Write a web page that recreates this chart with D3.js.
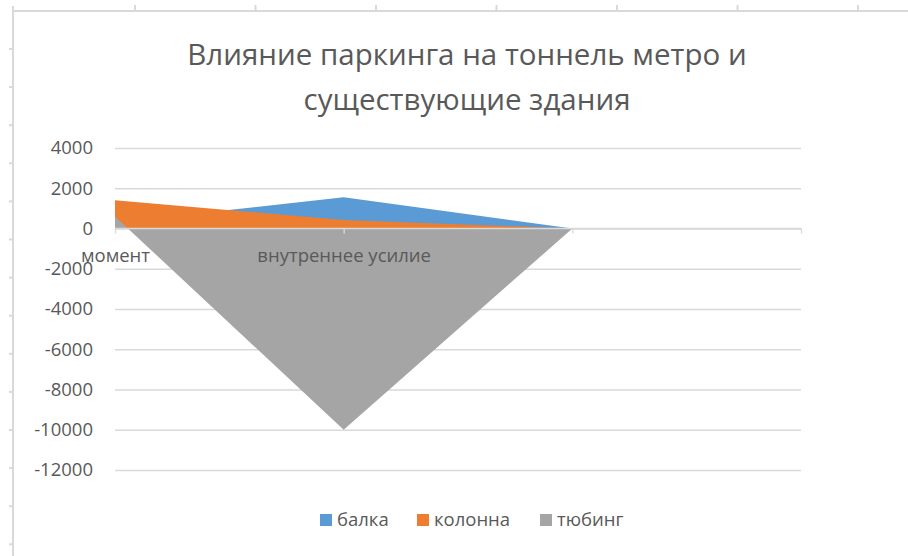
<!DOCTYPE html>
<meta charset="utf-8">
<script src="https://d3js.org/d3.v7.min.js"></script>
<style>
  body { margin: 0; background: #fff; }
  text { font-family: "Open Sans", "Noto Sans", sans-serif; fill: #595959; }
</style>
<div id="chart"></div>
<script>
// chart data
var categories = ["момент", "внутреннее усилие", "", ""];
var balka   = [300, 1550, 0, 0];
var kolonna = [1400, 420, 0, 0];
var tubing  = [600, -10000, 0, 0];
var seriesNames = ["балка", "колонна", "тюбинг"];
var colors = ["#5b9bd5", "#ed7d31", "#a5a5a5"];
var yTicks = [4000, 2000, 0, -2000, -4000, -6000, -8000, -10000, -12000];
var titleLines = ["Влияние паркинга на тоннель метро и", "существующие здания"];

var W = 908, H = 556;
var svg = d3.select("#chart").append("svg")
    .attr("width", W).attr("height", H);

// sheet frame (top ruler + left edge)
var frame = svg.append("g").attr("stroke", "#d9d9d9").attr("stroke-width", 2);
frame.append("line").attr("x1", 12).attr("x2", W).attr("y1", 11).attr("y2", 11);
frame.append("line").attr("x1", 13).attr("x2", 13).attr("y1", 6).attr("y2", H);
d3.range(7).forEach(function(i) {
  var x = 135 + i * 120.5;
  frame.append("line").attr("x1", x).attr("x2", x).attr("y1", 5).attr("y2", 11);
});
d3.range(14).forEach(function(i) {
  var y = 49 + i * 38.1;
  frame.append("line").attr("x1", 9).attr("x2", 13).attr("y1", y).attr("y2", y);
});

// scales
var x = d3.scalePoint()
    .domain(d3.range(categories.length))
    .range([115, 801]);
var y = d3.scaleLinear()
    .domain([-12000, 4000])
    .range([470, 148]);

// gridlines + y labels
var yAxis = svg.append("g")
    .attr("transform", "translate(115,0)")
    .call(d3.axisLeft(y).tickValues(yTicks).tickSize(-686).tickPadding(22)
      .tickFormat(function(d) { return String(d); }));
yAxis.select(".domain").remove();
yAxis.selectAll(".tick line").attr("stroke", "#d9d9d9").attr("stroke-width", 1.3);
yAxis.selectAll(".tick text").style("font-size", "18.5px").attr("fill", "#595959");

// areas
var area = d3.area()
    .x(function(d, i) { return x(i); })
    .y0(y(0))
    .y1(function(d) { return y(d); });

[balka, kolonna, tubing].forEach(function(s, k) {
  svg.append("path")
    .datum(s)
    .attr("d", area)
    .attr("fill", colors[k]);
});

// category axis
var xAxis = svg.append("g")
    .attr("transform", "translate(0," + y(0) + ")")
    .call(d3.axisBottom(x).tickSize(5).tickFormat(function(i) { return categories[i]; }));
xAxis.select(".domain").attr("stroke", "#d9d9d9").attr("stroke-width", 1.3)
    .attr("d", "M115,0H801");
xAxis.selectAll(".tick line").attr("stroke", "#d9d9d9").attr("stroke-width", 1.3);
xAxis.selectAll(".tick text").style("font-size", "18.5px").attr("fill", "#595959")
    .attr("y", 28).attr("dy", "0.32em");

// title
svg.append("g").selectAll("text")
  .data(titleLines)
  .enter().append("text")
    .attr("x", 467)
    .attr("y", function(d, i) { return 55 + i * 45; })
    .attr("dy", "0.35em")
    .attr("text-anchor", "middle")
    .style("font-size", "29.5px")
    .text(function(d) { return d; });

// legend
var legendX = [320, 417, 540];
var legend = svg.append("g").attr("transform", "translate(0,520)");
seriesNames.forEach(function(n, i) {
  legend.append("rect")
    .attr("x", legendX[i]).attr("y", -6)
    .attr("width", 12).attr("height", 12)
    .attr("fill", colors[i]);
  legend.append("text")
    .attr("x", legendX[i] + 17).attr("y", 0)
    .attr("dy", "0.35em")
    .style("font-size", "18.5px")
    .text(n);
});
</script>
